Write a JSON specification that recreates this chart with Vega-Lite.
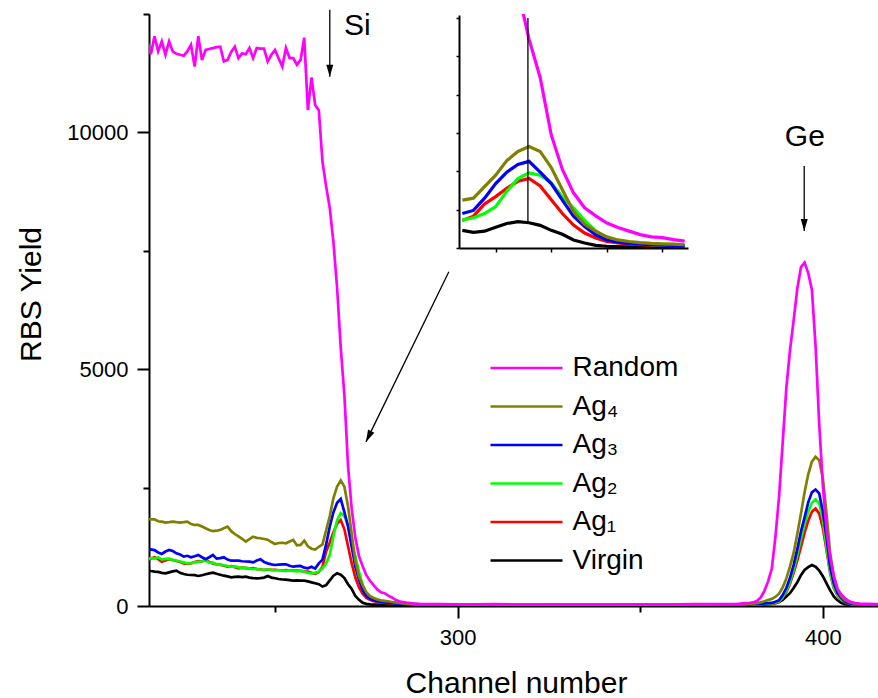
{
  "$schema": "https://vega.github.io/schema/vega-lite/v6.json",
  "width": 729,
  "height": 592,
  "autosize": {"type": "none"},
  "padding": {"left": 149, "top": 14, "right": 0, "bottom": 92},
  "background": "white",
  "config": {
    "view": {"stroke": null},
    "axis": {"domainColor": "black", "tickColor": "black", "labelColor": "black", "titleColor": "black", "labelFont": "Liberation Sans", "titleFont": "Liberation Sans", "labelFontSize": 22, "titleFontSize": 30, "titleFontWeight": "normal", "grid": false, "labelBound": false, "labelFlush": false},
    "text": {"font": "Liberation Sans"}
  },
  "datasets": {
    "spec": [
      {"c":215,"Random":11950,"Ag4":1840,"Ag3":1162,"Ag2":990,"Ag1":960,"Virgin":761},
      {"c":216,"Random":11650,"Ag4":1830,"Ag3":1197,"Ag2":1010,"Ag1":1000,"Virgin":740},
      {"c":217,"Random":12030,"Ag4":1832,"Ag3":1180,"Ag2":1000,"Ag1":1028,"Virgin":725},
      {"c":218,"Random":11710,"Ag4":1790,"Ag3":1130,"Ag2":1030,"Ag1":990,"Virgin":720},
      {"c":219,"Random":11920,"Ag4":1780,"Ag3":1099,"Ag2":980,"Ag1":936,"Virgin":700},
      {"c":220,"Random":11640,"Ag4":1761,"Ag3":1150,"Ag2":995,"Ag1":960,"Virgin":690},
      {"c":221,"Random":11920,"Ag4":1770,"Ag3":1183,"Ag2":1000,"Ag1":987,"Virgin":710},
      {"c":222,"Random":11710,"Ag4":1782,"Ag3":1160,"Ag2":975,"Ag1":970,"Virgin":730},
      {"c":223,"Random":11660,"Ag4":1770,"Ag3":1113,"Ag2":960,"Ag1":950,"Virgin":746},
      {"c":224,"Random":11640,"Ag4":1761,"Ag3":1090,"Ag2":940,"Ag1":930,"Virgin":700},
      {"c":225,"Random":11620,"Ag4":1770,"Ag3":1042,"Ag2":920,"Ag1":900,"Virgin":676},
      {"c":226,"Random":11710,"Ag4":1782,"Ag3":1060,"Ag2":900,"Ag1":887,"Virgin":660},
      {"c":227,"Random":11850,"Ag4":1730,"Ag3":1028,"Ag2":905,"Ag1":900,"Virgin":655},
      {"c":228,"Random":11390,"Ag4":1711,"Ag3":1050,"Ag2":920,"Ag1":930,"Virgin":650},
      {"c":229,"Random":12030,"Ag4":1711,"Ag3":1078,"Ag2":935,"Ag1":950,"Virgin":634},
      {"c":230,"Random":11530,"Ag4":1680,"Ag3":1030,"Ag2":945,"Ag1":940,"Virgin":650},
      {"c":231,"Random":11740,"Ag4":1641,"Ag3":987,"Ag2":960,"Ag1":972,"Virgin":670},
      {"c":232,"Random":11760,"Ag4":1606,"Ag3":1030,"Ag2":910,"Ag1":930,"Virgin":690},
      {"c":233,"Random":11780,"Ag4":1580,"Ag3":1078,"Ag2":920,"Ag1":900,"Virgin":704},
      {"c":234,"Random":11800,"Ag4":1590,"Ag3":1000,"Ag2":870,"Ag1":880,"Virgin":680},
      {"c":235,"Random":11810,"Ag4":1606,"Ag3":1010,"Ag2":880,"Ag1":870,"Virgin":660},
      {"c":236,"Random":11500,"Ag4":1640,"Ag3":1028,"Ag2":860,"Ag1":850,"Virgin":640},
      {"c":237,"Random":11530,"Ag4":1676,"Ag3":980,"Ag2":845,"Ag1":830,"Virgin":625},
      {"c":238,"Random":11700,"Ag4":1580,"Ag3":957,"Ag2":830,"Ag1":840,"Virgin":606},
      {"c":239,"Random":11810,"Ag4":1520,"Ag3":960,"Ag2":835,"Ag1":820,"Virgin":615},
      {"c":240,"Random":11570,"Ag4":1470,"Ag3":957,"Ag2":815,"Ag1":796,"Virgin":620},
      {"c":241,"Random":11670,"Ag4":1420,"Ag3":945,"Ag2":800,"Ag1":810,"Virgin":610},
      {"c":242,"Random":11650,"Ag4":1360,"Ag3":940,"Ag2":810,"Ag1":800,"Virgin":620},
      {"c":243,"Random":11780,"Ag4":1410,"Ag3":936,"Ag2":790,"Ag1":790,"Virgin":600},
      {"c":244,"Random":11570,"Ag4":1464,"Ag3":920,"Ag2":780,"Ag1":800,"Virgin":590},
      {"c":245,"Random":11780,"Ag4":1440,"Ag3":960,"Ag2":785,"Ag1":780,"Virgin":585},
      {"c":246,"Random":11770,"Ag4":1430,"Ag3":987,"Ag2":770,"Ag1":775,"Virgin":590},
      {"c":247,"Random":11770,"Ag4":1415,"Ag3":930,"Ag2":760,"Ag1":761,"Virgin":600},
      {"c":248,"Random":11500,"Ag4":1400,"Ag3":900,"Ag2":775,"Ag1":770,"Virgin":634},
      {"c":249,"Random":11640,"Ag4":1350,"Ag3":880,"Ag2":760,"Ag1":761,"Virgin":600},
      {"c":250,"Random":11740,"Ag4":1310,"Ag3":866,"Ag2":750,"Ag1":765,"Virgin":585},
      {"c":251,"Random":11560,"Ag4":1330,"Ag3":872,"Ag2":760,"Ag1":755,"Virgin":570},
      {"c":252,"Random":11390,"Ag4":1335,"Ag3":878,"Ag2":745,"Ag1":750,"Virgin":560},
      {"c":253,"Random":11780,"Ag4":1324,"Ag3":881,"Ag2":740,"Ag1":760,"Virgin":555},
      {"c":254,"Random":11570,"Ag4":1360,"Ag3":850,"Ag2":750,"Ag1":750,"Virgin":545},
      {"c":255,"Random":11570,"Ag4":1395,"Ag3":830,"Ag2":740,"Ag1":746,"Virgin":535},
      {"c":256,"Random":11430,"Ag4":1280,"Ag3":840,"Ag2":730,"Ag1":750,"Virgin":540},
      {"c":257,"Random":11530,"Ag4":1290,"Ag3":845,"Ag2":745,"Ag1":740,"Virgin":535},
      {"c":258,"Random":12000,"Ag4":1380,"Ag3":810,"Ag2":720,"Ag1":730,"Virgin":535},
      {"c":259,"Random":10470,"Ag4":1260,"Ag3":796,"Ag2":700,"Ag1":725,"Virgin":520},
      {"c":260,"Random":11160,"Ag4":1210,"Ag3":830,"Ag2":690,"Ag1":700,"Virgin":500},
      {"c":261,"Random":10580,"Ag4":1190,"Ag3":790,"Ag2":700,"Ag1":680,"Virgin":480},
      {"c":262,"Random":10470,"Ag4":1250,"Ag3":900,"Ag2":730,"Ag1":720,"Virgin":460},
      {"c":263,"Random":9380,"Ag4":1300,"Ag3":980,"Ag2":790,"Ag1":830,"Virgin":410},
      {"c":264,"Random":8860,"Ag4":1600,"Ag3":1300,"Ag2":900,"Ag1":1150,"Virgin":440},
      {"c":265,"Random":8400,"Ag4":1900,"Ag3":1680,"Ag2":1080,"Ag1":1340,"Virgin":540},
      {"c":266,"Random":7680,"Ag4":2280,"Ag3":1980,"Ag2":1480,"Ag1":1560,"Virgin":640},
      {"c":267,"Random":6720,"Ag4":2520,"Ag3":2180,"Ag2":1810,"Ag1":1740,"Virgin":690},
      {"c":268,"Random":5450,"Ag4":2650,"Ag3":2260,"Ag2":1960,"Ag1":1815,"Virgin":660},
      {"c":269,"Random":4450,"Ag4":2520,"Ag3":1980,"Ag2":1900,"Ag1":1620,"Virgin":590},
      {"c":270,"Random":2950,"Ag4":2100,"Ag3":1680,"Ag2":1700,"Ag1":1260,"Virgin":460},
      {"c":271,"Random":2050,"Ag4":1520,"Ag3":1250,"Ag2":1330,"Ag1":900,"Virgin":360},
      {"c":272,"Random":1440,"Ag4":950,"Ag3":830,"Ag2":1050,"Ag1":600,"Virgin":210},
      {"c":273,"Random":1050,"Ag4":620,"Ag3":560,"Ag2":720,"Ag1":390,"Virgin":130},
      {"c":274,"Random":840,"Ag4":440,"Ag3":340,"Ag2":440,"Ag1":260,"Virgin":70},
      {"c":275,"Random":650,"Ag4":290,"Ag3":210,"Ag2":260,"Ag1":170,"Virgin":45},
      {"c":276,"Random":535,"Ag4":210,"Ag3":150,"Ag2":180,"Ag1":130,"Virgin":35},
      {"c":277,"Random":440,"Ag4":170,"Ag3":120,"Ag2":135,"Ag1":100,"Virgin":30},
      {"c":278,"Random":350,"Ag4":140,"Ag3":100,"Ag2":105,"Ag1":85,"Virgin":28},
      {"c":279,"Random":290,"Ag4":120,"Ag3":85,"Ag2":90,"Ag1":75,"Virgin":26},
      {"c":280,"Random":270,"Ag4":110,"Ag3":75,"Ag2":80,"Ag1":65,"Virgin":25},
      {"c":281,"Random":220,"Ag4":100,"Ag3":68,"Ag2":72,"Ag1":60,"Virgin":25},
      {"c":282,"Random":180,"Ag4":85,"Ag3":60,"Ag2":65,"Ag1":55,"Virgin":24},
      {"c":283,"Random":130,"Ag4":75,"Ag3":55,"Ag2":60,"Ag1":50,"Virgin":24},
      {"c":284,"Random":100,"Ag4":65,"Ag3":50,"Ag2":55,"Ag1":47,"Virgin":23},
      {"c":285,"Random":85,"Ag4":55,"Ag3":45,"Ag2":50,"Ag1":45,"Virgin":23},
      {"c":286,"Random":70,"Ag4":50,"Ag3":42,"Ag2":45,"Ag1":42,"Virgin":22},
      {"c":287,"Random":60,"Ag4":45,"Ag3":40,"Ag2":42,"Ag1":40,"Virgin":22},
      {"c":288,"Random":50,"Ag4":40,"Ag3":38,"Ag2":40,"Ag1":38,"Virgin":22},
      {"c":290,"Random":42,"Ag4":36,"Ag3":35,"Ag2":36,"Ag1":35,"Virgin":21},
      {"c":295,"Random":38,"Ag4":33,"Ag3":32,"Ag2":33,"Ag1":32,"Virgin":20},
      {"c":300,"Random":37,"Ag4":32,"Ag3":31,"Ag2":32,"Ag1":31,"Virgin":20},
      {"c":305,"Random":36,"Ag4":31,"Ag3":30,"Ag2":31,"Ag1":30,"Virgin":20},
      {"c":310,"Random":38,"Ag4":31,"Ag3":30,"Ag2":31,"Ag1":30,"Virgin":20},
      {"c":315,"Random":36,"Ag4":30,"Ag3":30,"Ag2":30,"Ag1":29,"Virgin":20},
      {"c":320,"Random":35,"Ag4":30,"Ag3":29,"Ag2":30,"Ag1":29,"Virgin":20},
      {"c":325,"Random":37,"Ag4":30,"Ag3":29,"Ag2":29,"Ag1":29,"Virgin":20},
      {"c":330,"Random":35,"Ag4":30,"Ag3":29,"Ag2":29,"Ag1":28,"Virgin":20},
      {"c":335,"Random":36,"Ag4":30,"Ag3":29,"Ag2":29,"Ag1":28,"Virgin":20},
      {"c":340,"Random":35,"Ag4":30,"Ag3":28,"Ag2":29,"Ag1":28,"Virgin":20},
      {"c":345,"Random":37,"Ag4":30,"Ag3":28,"Ag2":28,"Ag1":28,"Virgin":20},
      {"c":350,"Random":36,"Ag4":30,"Ag3":28,"Ag2":28,"Ag1":28,"Virgin":20},
      {"c":355,"Random":35,"Ag4":30,"Ag3":28,"Ag2":28,"Ag1":28,"Virgin":21},
      {"c":360,"Random":37,"Ag4":30,"Ag3":29,"Ag2":28,"Ag1":28,"Virgin":21},
      {"c":365,"Random":38,"Ag4":31,"Ag3":29,"Ag2":29,"Ag1":29,"Virgin":21},
      {"c":370,"Random":39,"Ag4":31,"Ag3":29,"Ag2":29,"Ag1":29,"Virgin":21},
      {"c":375,"Random":40,"Ag4":32,"Ag3":30,"Ag2":30,"Ag1":30,"Virgin":22},
      {"c":376,"Random":42,"Ag4":33,"Ag3":31,"Ag2":30,"Ag1":30,"Virgin":22},
      {"c":377,"Random":48,"Ag4":35,"Ag3":32,"Ag2":31,"Ag1":31,"Virgin":23},
      {"c":378,"Random":55,"Ag4":36,"Ag3":33,"Ag2":32,"Ag1":32,"Virgin":24},
      {"c":379,"Random":60,"Ag4":38,"Ag3":34,"Ag2":33,"Ag1":33,"Virgin":25},
      {"c":380,"Random":65,"Ag4":42,"Ag3":36,"Ag2":34,"Ag1":34,"Virgin":26},
      {"c":381,"Random":75,"Ag4":48,"Ag3":38,"Ag2":36,"Ag1":36,"Virgin":28},
      {"c":382,"Random":110,"Ag4":60,"Ag3":42,"Ag2":40,"Ag1":38,"Virgin":30},
      {"c":383,"Random":180,"Ag4":75,"Ag3":48,"Ag2":44,"Ag1":40,"Virgin":33},
      {"c":384,"Random":320,"Ag4":100,"Ag3":55,"Ag2":48,"Ag1":42,"Virgin":36},
      {"c":385,"Random":520,"Ag4":125,"Ag3":60,"Ag2":50,"Ag1":42,"Virgin":38},
      {"c":386,"Random":780,"Ag4":150,"Ag3":65,"Ag2":55,"Ag1":45,"Virgin":42},
      {"c":387,"Random":1450,"Ag4":190,"Ag3":90,"Ag2":70,"Ag1":60,"Virgin":60},
      {"c":388,"Random":2300,"Ag4":260,"Ag3":120,"Ag2":100,"Ag1":90,"Virgin":85},
      {"c":389,"Random":3450,"Ag4":390,"Ag3":230,"Ag2":190,"Ag1":170,"Virgin":130},
      {"c":390,"Random":4600,"Ag4":580,"Ag3":380,"Ag2":320,"Ag1":290,"Virgin":200},
      {"c":391,"Random":5400,"Ag4":830,"Ag3":590,"Ag2":510,"Ag1":470,"Virgin":270},
      {"c":392,"Random":6030,"Ag4":1120,"Ag3":870,"Ag2":770,"Ag1":700,"Virgin":380},
      {"c":393,"Random":6700,"Ag4":1520,"Ag3":1200,"Ag2":1080,"Ag1":960,"Virgin":500},
      {"c":394,"Random":7150,"Ag4":1950,"Ag3":1570,"Ag2":1420,"Ag1":1250,"Virgin":650},
      {"c":395,"Random":7250,"Ag4":2400,"Ag3":1870,"Ag2":1730,"Ag1":1550,"Virgin":760},
      {"c":396,"Random":7030,"Ag4":2780,"Ag3":2190,"Ag2":1990,"Ag1":1800,"Virgin":820},
      {"c":397,"Random":6680,"Ag4":3050,"Ag3":2400,"Ag2":2180,"Ag1":1990,"Virgin":866},
      {"c":398,"Random":5500,"Ag4":3150,"Ag3":2460,"Ag2":2250,"Ag1":2060,"Virgin":830},
      {"c":399,"Random":3850,"Ag4":3080,"Ag3":2380,"Ag2":2170,"Ag1":1950,"Virgin":750},
      {"c":400,"Random":2550,"Ag4":2700,"Ag3":1990,"Ag2":1820,"Ag1":1650,"Virgin":630},
      {"c":401,"Random":1620,"Ag4":1950,"Ag3":1450,"Ag2":1250,"Ag1":1180,"Virgin":480},
      {"c":402,"Random":1030,"Ag4":1120,"Ag3":830,"Ag2":720,"Ag1":690,"Virgin":330},
      {"c":403,"Random":640,"Ag4":620,"Ag3":480,"Ag2":400,"Ag1":380,"Virgin":200},
      {"c":404,"Random":360,"Ag4":360,"Ag3":280,"Ag2":230,"Ag1":220,"Virgin":120},
      {"c":405,"Random":250,"Ag4":210,"Ag3":170,"Ag2":140,"Ag1":130,"Virgin":70},
      {"c":406,"Random":170,"Ag4":130,"Ag3":100,"Ag2":90,"Ag1":80,"Virgin":40},
      {"c":407,"Random":110,"Ag4":90,"Ag3":60,"Ag2":55,"Ag1":50,"Virgin":30},
      {"c":408,"Random":75,"Ag4":60,"Ag3":45,"Ag2":40,"Ag1":40,"Virgin":25},
      {"c":409,"Random":60,"Ag4":48,"Ag3":38,"Ag2":35,"Ag1":35,"Virgin":23},
      {"c":410,"Random":50,"Ag4":40,"Ag3":34,"Ag2":32,"Ag1":32,"Virgin":22},
      {"c":412,"Random":45,"Ag4":36,"Ag3":31,"Ag2":30,"Ag1":30,"Virgin":21},
      {"c":415,"Random":42,"Ag4":34,"Ag3":30,"Ag2":29,"Ag1":29,"Virgin":20}
    ],
    "arrows": [
      {"id": "Si", "c": 265.0, "v": 12590, "c2": 265.0, "v2": 11177},
      {"id": "Ge", "c": 394.9, "v": 9290, "c2": 394.9, "v2": 7916},
      {"id": "inset", "c": 297.6, "v": 7057, "c2": 274.9, "v2": 3465}
    ],
    "labels": [
      {"label": "Si", "c": 268.9, "v": 12064},
      {"label": "Ge", "c": 389.6, "v": 9705}
    ],
    "marker": [
      {"c": 267.9, "v": 6000, "v2": 650}
    ]
  },
  "layer": [
    {
      "layer": [
        {
          "data": {"name": "spec"},
          "transform": [{"fold": ["Virgin", "Ag1", "Ag2", "Ag3", "Ag4", "Random"], "as": ["series", "v"]}],
          "mark": {"type": "line", "strokeWidth": 2.7, "clip": true},
          "encoding": {
            "x": {"field": "c", "type": "quantitative",
              "scale": {"domain": [215.5, 415.1], "nice": false, "zero": false},
              "axis": {"orient": "bottom", "title": "Channel number", "values": [250, 300, 350, 400], "format": "d",
                "labelExpr": "datum.value % 100 === 0 ? datum.label : ''",
                "tickSize": {"condition": {"test": "datum.value % 100 === 0", "value": 12}, "value": 6},
                "tickWidth": 2, "domainWidth": 2, "labelPadding": 9.5,
                "titleX": 367, "titleY": 62, "titleBaseline": "top", "titleAnchor": "middle"}},
            "y": {"field": "v", "type": "quantitative",
              "scale": {"domain": [0, 12500], "nice": false},
              "axis": {"orient": "left", "title": "RBS Yield", "values": [0, 2500, 5000, 7500, 10000, 12500], "format": "d",
                "labelExpr": "datum.value % 5000 === 0 ? datum.label : ''",
                "tickSize": {"condition": {"test": "datum.value % 5000 === 0", "value": 12}, "value": 6},
                "tickWidth": 2, "domainWidth": 2, "labelPadding": 9,
                "titleX": -103, "titleY": 280, "titleBaseline": "bottom", "titleAngle": -90}},
            "color": {"field": "series", "type": "nominal",
              "scale": {"domain": ["Random", "Ag4", "Ag3", "Ag2", "Ag1", "Virgin"], "range": ["#ff00ff", "#808000", "#0000ff", "#00ff00", "#ff0000", "#000000"]},
              "legend": {"orient": "none", "legendX": 341, "legendY": 340, "title": null, "padding": 0,
                "symbolType": "M-3,0H3", "symbolSize": 576, "symbolStrokeWidth": 2.7, "symbolOffset": 22.5,
                "labelOffset": 32, "labelFontSize": 28, "labelFont": "Liberation Sans", "labelColor": "black", "rowPadding": 10.5,
                "labelExpr": "datum.label === 'Ag4' ? 'Ag₄' : datum.label === 'Ag3' ? 'Ag₃' : datum.label === 'Ag2' ? 'Ag₂' : datum.label === 'Ag1' ? 'Ag₁' : datum.label"}}
          }
        },
        {
          "data": {"name": "arrows"},
          "mark": {"type": "rule", "color": "black", "strokeWidth": 1.3},
          "encoding": {
            "x": {"field": "c", "type": "quantitative"},
            "y": {"field": "v", "type": "quantitative"},
            "x2": {"field": "c2"},
            "y2": {"field": "v2"}
          }
        },
        {
          "data": {"name": "arrows"},
          "transform": [{"filter": "datum.id !== 'inset'"}],
          "mark": {"type": "point", "shape": "M0,0L-1.75,-6L1.75,-6Z", "size": 16, "filled": true, "color": "black", "opacity": 1, "strokeWidth": 0},
          "encoding": {
            "x": {"field": "c2", "type": "quantitative"},
            "y": {"field": "v2", "type": "quantitative"}
          }
        },
        {
          "data": {"name": "arrows"},
          "transform": [{"filter": "datum.id === 'inset'"}],
          "mark": {"type": "point", "shape": "M0,0L-1.75,-6L1.75,-6Z", "size": 16, "filled": true, "color": "black", "opacity": 1, "strokeWidth": 0, "angle": 25.9},
          "encoding": {
            "x": {"field": "c2", "type": "quantitative"},
            "y": {"field": "v2", "type": "quantitative"}
          }
        },
        {
          "data": {"name": "labels"},
          "mark": {"type": "text", "align": "left", "baseline": "alphabetic", "fontSize": 30, "font": "Liberation Sans", "color": "black"},
          "encoding": {
            "x": {"field": "c", "type": "quantitative"},
            "y": {"field": "v", "type": "quantitative"},
            "text": {"field": "label"}
          }
        }
      ]
    },
    {
      "layer": [
        {
          "data": {"name": "spec"},
          "transform": [
            {"filter": "datum.c >= 262 && datum.c <= 282"},
            {"fold": ["Virgin", "Ag1", "Ag2", "Ag3", "Ag4", "Random"], "as": ["series", "v"]}
          ],
          "mark": {"type": "line", "strokeWidth": 3.2, "clip": true},
          "encoding": {
            "x": {"field": "c", "type": "quantitative",
              "scale": {"domain": [261.7, 282.3], "range": [310, 539], "nice": false, "zero": false},
              "axis": {"orient": "bottom", "offset": -358, "title": null, "labels": false, "values": [265, 270, 275, 280], "tickSize": 4, "tickWidth": 1.5, "domainWidth": 2}},
            "y": {"field": "v", "type": "quantitative",
              "scale": {"domain": [0, 6080], "range": [234, 1], "nice": false},
              "axis": {"orient": "left", "offset": -310, "title": null, "labels": false, "values": [0, 1000, 2000, 3000, 4000, 5000, 6000], "tickSize": 3, "tickWidth": 1.5, "domainWidth": 2}},
            "color": {"field": "series", "type": "nominal", "legend": null}
          }
        },
        {
          "data": {"name": "marker"},
          "mark": {"type": "rule", "color": "black", "strokeWidth": 1.3},
          "encoding": {
            "x": {"field": "c", "type": "quantitative"},
            "y": {"field": "v", "type": "quantitative"},
            "y2": {"field": "v2"}
          }
        }
      ]
    }
  ],
  "resolve": {"scale": {"x": "independent", "y": "independent"}, "axis": {"x": "independent", "y": "independent"}}
}
